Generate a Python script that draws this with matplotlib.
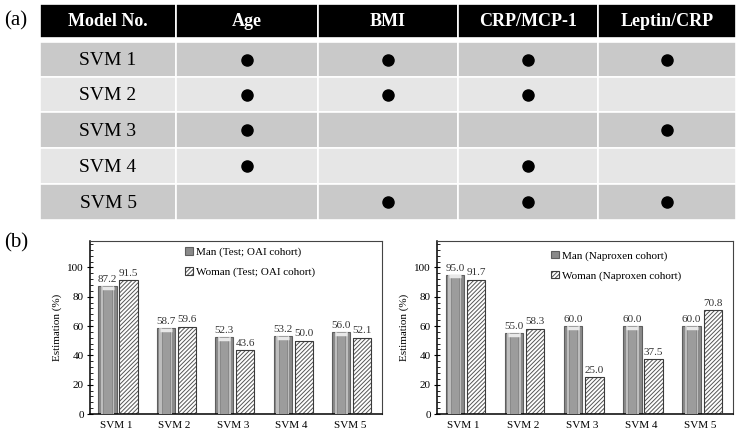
import numpy as np
import matplotlib
matplotlib.use('Agg')
import matplotlib.pyplot as plt
from matplotlib.patches import Rectangle

plt.rcParams['font.family'] = ['Liberation Serif', 'DejaVu Serif']
plt.rcParams['hatch.linewidth'] = 0.7

# table (a)
models = ['SVM 1', 'SVM 2', 'SVM 3', 'SVM 4', 'SVM 5']
features = ['Age', 'BMI', 'CRP/MCP-1', 'Leptin/CRP']
used = [[1, 1, 1, 1],
        [1, 1, 1, 0],
        [1, 0, 0, 1],
        [1, 0, 1, 0],
        [0, 1, 1, 1]]

# charts (b)
man_oai = [87.2, 58.7, 52.3, 53.2, 56.0]
woman_oai = [91.5, 59.6, 43.6, 50.0, 52.1]
man_nap = [95.0, 55.0, 60.0, 60.0, 60.0]
woman_nap = [91.7, 58.3, 25.0, 37.5, 70.8]
legend_oai = ['Man (Test; OAI cohort)', 'Woman (Test; OAI cohort)']
legend_nap = ['Man (Naproxen cohort)', 'Woman (Naproxen cohort)']

W, H = 746, 438
fig = plt.figure(figsize=(W / 100, H / 100), dpi=100)

# background axes in pixel coords for the table
bg = fig.add_axes([0, 0, 1, 1])
bg.set_xlim(0, W)
bg.set_ylim(H, 0)
bg.axis('off')

col_edges = [40, 176, 318, 458, 598, 736]
row_edges = [42, 77, 112, 148, 184, 220]
header = ['Model No.'] + features

# header
for j in range(len(header)):
    x0, x1 = col_edges[j], col_edges[j + 1]
    bg.add_patch(Rectangle((x0, 4), x1 - x0, 34, facecolor='black',
                           edgecolor='white', lw=1.2))
    bg.text((x0 + x1) / 2, 21, header[j], color='white', fontsize=13,
            fontweight='bold', ha='center', va='center')

for i, m in enumerate(models):
    y0, y1 = row_edges[i], row_edges[i + 1]
    fc = '#c9c9c9' if i % 2 == 0 else '#e6e6e6'
    for j in range(len(header)):
        x0, x1 = col_edges[j], col_edges[j + 1]
        bg.add_patch(Rectangle((x0, y0), x1 - x0, y1 - y0, facecolor=fc,
                               edgecolor='white', lw=1.2))
    bg.text((col_edges[0] + col_edges[1]) / 2, (y0 + y1) / 2 + 1, m,
            fontsize=14, ha='center', va='center')
    for j, u in enumerate(used[i]):
        if u:
            bg.plot((col_edges[j + 1] + col_edges[j + 2]) / 2, (y0 + y1) / 2,
                    'o', color='black', ms=8)

bg.text(4, 21, '(a)', fontsize=15, ha='left', va='center')
bg.text(4, 243, '(b)', fontsize=15, ha='left', va='center')


def draw_chart(rect, man, woman, labels, leg_x, leg_y):
    ax = fig.add_axes(rect)
    x = np.arange(len(man))
    bw = 0.31
    xm = x - 0.2
    xw = x + 0.16
    # cylinder-like grey bars
    hm = ax.bar(xm, man, bw, color='#8a8a8a', edgecolor='#5e5e5e', lw=0.8, zorder=2)
    ax.bar(xm, man, bw * 0.72, color='#bdbdbd', edgecolor='none', zorder=3)
    ax.bar(xm, man, bw * 0.45, color='#9c9c9c', edgecolor='#7a7a7a', lw=0.5, zorder=4)
    ax.plot(xm, np.array(man) - 1.2, marker=(2, 0, 90), ls='none', ms=9, mew=2.5,
            color='#e8e8e8', zorder=5)
    # hatched bars
    hw = ax.bar(xw, woman, bw, color='white', edgecolor='#555555', hatch='////////',
                lw=0, zorder=2)
    hw2 = ax.bar(xw, woman, bw, fill=False, edgecolor='#3a3a3a', lw=0.8, zorder=3)
    for a, b, c, d in zip(xm, man, xw, woman):
        ax.text(a, b + 1.5, '%.1f' % b, ha='center', va='bottom', fontsize=8,
                color='#333333')
        ax.text(c, d + 1.5, '%.1f' % d, ha='center', va='bottom', fontsize=8,
                color='#333333')
    ax.set_xlim(-0.5, 4.5)
    ax.set_ylim(0, 118)
    ax.set_xticks(x - 0.05)
    ax.set_xticklabels(models)
    ax.set_yticks(np.arange(0, 101, 20))
    ax.set_yticks(np.arange(0, 117, 4), minor=True)
    ax.tick_params(axis='y', which='major', direction='inout', length=5,
                   labelsize=8, pad=2)
    ax.tick_params(axis='y', which='minor', direction='in', length=2.5)
    ax.tick_params(axis='x', length=0, labelsize=8, pad=5)
    ax.set_ylabel('Estimation (%)', fontsize=8, labelpad=4)
    for s in ax.spines.values():
        s.set_color('#444444')
        s.set_linewidth(0.8)
    ax.spines['left'].set_color('black')
    ax.spines['left'].set_linewidth(1.1)
    ax.spines['bottom'].set_color('black')
    ax.spines['bottom'].set_linewidth(1.1)
    ax.legend([hm[0], (hw[0], hw2[0])], labels, loc='upper left',
              bbox_to_anchor=(leg_x, leg_y), frameon=False,
              fontsize=8, handlelength=0.7, handleheight=0.7,
              handletextpad=0.3, labelspacing=0.9, borderaxespad=0)
    return ax


draw_chart([90 / W, 1 - 414 / H, 292 / W, 173 / H], man_oai, woman_oai,
           legend_oai, 0.31, 0.99)
draw_chart([437 / W, 1 - 414 / H, 296 / W, 173 / H], man_nap, woman_nap,
           legend_nap, 0.37, 0.97)

fig.savefig('out.png', dpi=100, facecolor='white')
